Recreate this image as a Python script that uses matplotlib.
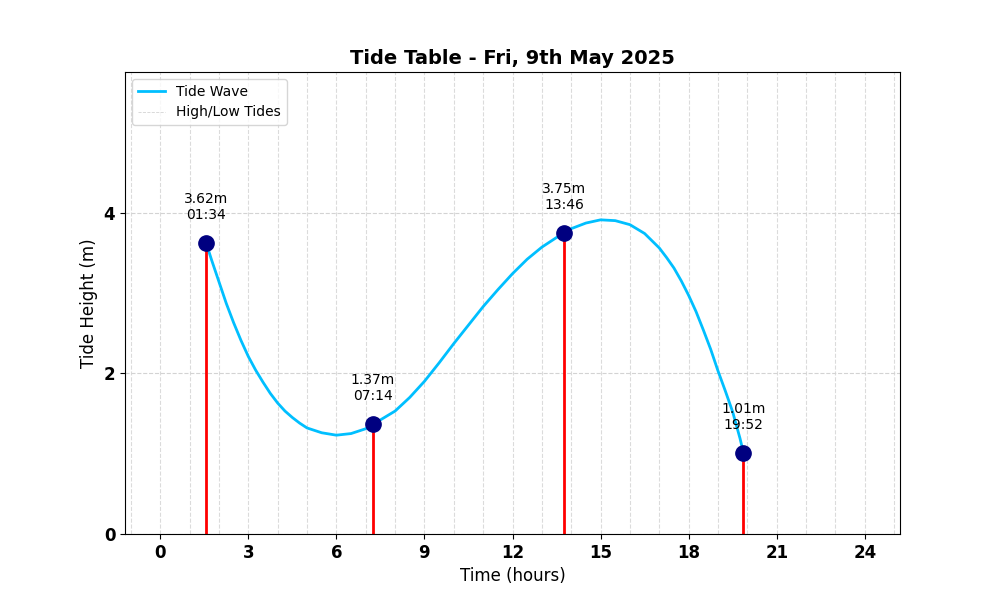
import matplotlib
matplotlib.use("Agg")
import matplotlib.pyplot as plt
from matplotlib.ticker import MultipleLocator

# high / low tides
tide_times = ["01:34", "07:14", "13:46", "19:52"]
tide_heights = [3.62, 1.37, 3.75, 1.01]

# tide wave
wave_hours = [1.567, 1.75, 2.0, 2.25, 2.5, 2.75, 3.0, 3.25, 3.5, 3.75, 4.0, 4.25, 4.5,
              4.75, 5.0, 5.5, 6.0, 6.5, 7.0, 7.233, 7.5, 8.0, 8.5, 9.0, 9.5, 10.0,
              10.5, 11.0, 11.5, 12.0, 12.5, 13.0, 13.5, 13.767, 14.0, 14.5, 15.0,
              15.5, 16.0, 16.5, 17.0, 17.25, 17.5, 17.75, 18.0, 18.25, 18.5, 18.75,
              19.0, 19.25, 19.5, 19.75, 19.867]
wave_heights = [3.62, 3.41, 3.14, 2.87, 2.63, 2.41, 2.21, 2.04, 1.89, 1.75, 1.63, 1.53, 1.45,
                1.38, 1.32, 1.26, 1.23, 1.25, 1.31, 1.37, 1.42, 1.53, 1.70, 1.90, 2.13, 2.37,
                2.60, 2.83, 3.04, 3.24, 3.42, 3.57, 3.69, 3.75, 3.80, 3.87, 3.91,
                3.90, 3.85, 3.74, 3.56, 3.44, 3.31, 3.15, 2.97, 2.77, 2.54, 2.30,
                2.03, 1.78, 1.52, 1.19, 1.01]

tide_hours = [int(t[:2]) + int(t[3:]) / 60 for t in tide_times]

fig, ax = plt.subplots(figsize=(10, 6), dpi=100)

ax.plot(wave_hours, wave_heights, color='deepskyblue', lw=2, label='Tide Wave',
        solid_joinstyle='round')
ax.plot([], [], color='lightgray', ls='--', lw=0.6, label='High/Low Tides')
ax.vlines(tide_hours, 0, tide_heights, color='red', lw=2)
ax.plot(tide_hours, tide_heights, 'o', color='navy', markersize=11, zorder=5)

for h, v, t in zip(tide_hours, tide_heights, tide_times):
    ax.annotate(f"{v:.2f}m\n{t}", (h, v), xytext=(0, 15), textcoords='offset points',
                ha='center', va='bottom', fontsize=10)

ax.set_xlim(-1.2, 25.2)
ax.set_ylim(0, max(tide_heights) + 2)
ax.xaxis.set_major_locator(MultipleLocator(3))
ax.xaxis.set_minor_locator(MultipleLocator(1))
ax.yaxis.set_major_locator(MultipleLocator(2))
ax.tick_params(axis='x', which='minor', length=0)
ax.grid(True, which='both', axis='x', linestyle='--', color='lightgray', lw=0.8, alpha=0.8)
ax.grid(True, which='major', axis='y', linestyle='--', color='lightgray', lw=0.8)

for lbl in ax.get_xticklabels() + ax.get_yticklabels():
    lbl.set_fontweight('bold')
ax.tick_params(labelsize=12)

ax.set_title('Tide Table - Fri, 9th May 2025', fontsize=14, fontweight='bold')
ax.set_xlabel('Time (hours)', fontsize=12)
ax.set_ylabel('Tide Height (m)', fontsize=12)
ax.legend(loc='upper left')

plt.savefig('out.png')
